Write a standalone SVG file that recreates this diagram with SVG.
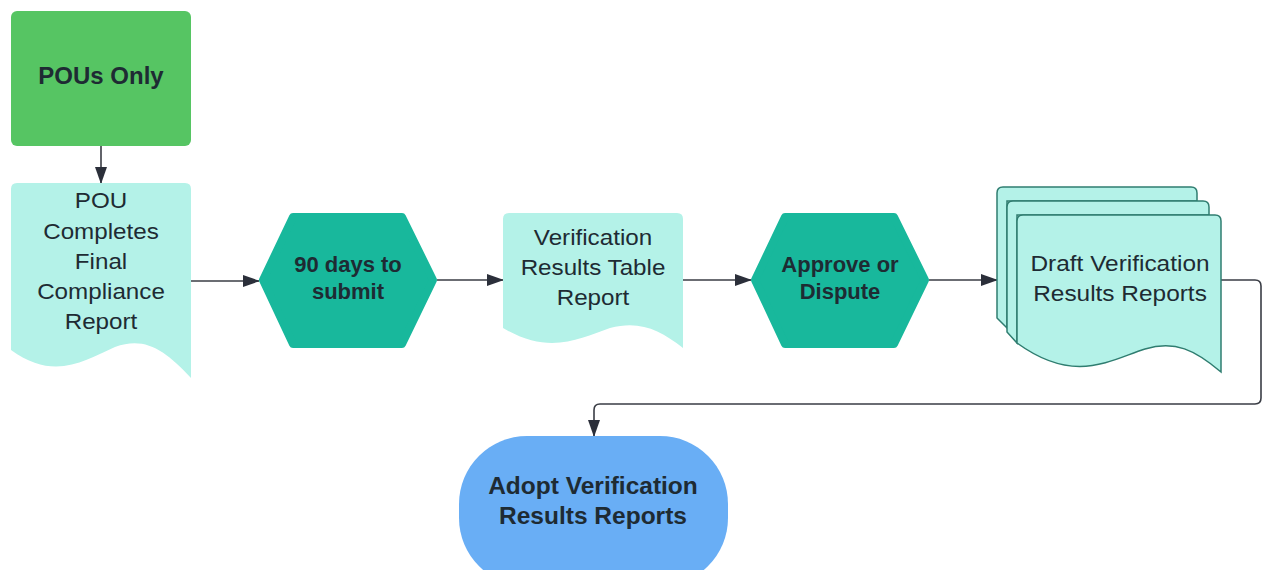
<svg xmlns="http://www.w3.org/2000/svg" width="1263" height="570" viewBox="0 0 1263 570">
<defs>
<marker id="ah" markerWidth="17" markerHeight="12" refX="16" refY="6" orient="auto" markerUnits="userSpaceOnUse">
<path d="M0,0 L17,6 L0,12 Z" fill="#2b2f3a"/>
</marker>
<style>
.t{font-family:"Liberation Sans",Arial,sans-serif;font-size:22px;fill:#1e2b33;text-anchor:middle}
.b{font-weight:bold}
.doc{fill:#b4f2e8}
.hex{fill:#18b89c;stroke:#18b89c;stroke-width:8;stroke-linejoin:round}
.md{fill:#b4f2e8;stroke:#2f7d70;stroke-width:1.5}
.c{fill:none;stroke:#3a3d45;stroke-width:1.6}
</style>
</defs>
<rect width="1263" height="570" fill="#ffffff"/>
<g id="connectors">
<path class="c" d="M101,146 L101,183" marker-end="url(#ah)"/>
<path class="c" d="M191,281 L259,281" marker-end="url(#ah)"/>
<path class="c" d="M437,280 L503,280" marker-end="url(#ah)"/>
<path class="c" d="M683,280 L751,280" marker-end="url(#ah)"/>
<path class="c" d="M929,280 L997,280" marker-end="url(#ah)"/>
<path class="c" d="M1221,280 L1255,280 Q1261,280 1261,286 L1261,398 Q1261,404 1255,404 L600,404 Q594,404 594,410 L594,436" marker-end="url(#ah)"/>
</g>
<g id="n1">
<rect x="11" y="11" width="180" height="135" rx="6" fill="#56c563"/>
<text class="t b" x="101" y="84" style="font-size:24px">POUs Only</text>
</g>
<g id="n2">
<path class="doc" d="M11,189 Q11,183 17,183 L185,183 Q191,183 191,189 L191,378 C165,350 145,336 115,347 C85,360 55,382 11,350 Z"/>
<text class="t" transform="translate(101,208) scale(1.1,1)">POU</text>
<text class="t" transform="translate(101,239) scale(1.1,1)">Completes</text>
<text class="t" transform="translate(101,269) scale(1.1,1)">Final</text>
<text class="t" transform="translate(101,299) scale(1.1,1)">Compliance</text>
<text class="t" transform="translate(101,329) scale(1.1,1)">Report</text>
</g>
<g id="n3">
<polygon class="hex" points="263,280 293,217 402,217 433,280 402,344 293,344"/>
<text class="t b" x="348" y="272">90 days to</text>
<text class="t b" x="348" y="299">submit</text>
</g>
<g id="n4">
<path class="doc" d="M503,219 Q503,213 509,213 L677,213 Q683,213 683,219 L683,348 C660,330 640,320 610,328 C580,338 550,356 503,328 Z"/>
<text class="t" transform="translate(593,245) scale(1.1,1)">Verification</text>
<text class="t" transform="translate(593,275) scale(1.1,1)">Results Table</text>
<text class="t" transform="translate(593,305) scale(1.1,1)">Report</text>
</g>
<g id="n5">
<polygon class="hex" points="755,280 785,217 894,217 925,280 894,344 785,344"/>
<text class="t b" x="840" y="272">Approve or</text>
<text class="t b" x="840" y="299">Dispute</text>
</g>
<g id="n6">
<path class="md" d="M997,193 Q997,187 1003,187 L1191,187 Q1197,187 1197,193 L1197,201 L1007,201 L1007,328 L997,318 Z"/>
<path class="md" d="M1007,207 Q1007,201 1013,201 L1203,201 Q1209,201 1209,207 L1209,215 L1017,215 L1017,343 L1007,332 Z"/>
<path class="md" d="M1017,221 Q1017,215 1023,215 L1215,215 Q1221,215 1221,221 L1221,372 C1195,350 1175,340 1145,349 C1110,360 1075,385 1017,343 Z"/>
<text class="t" transform="translate(1120,271) scale(1.11,1)">Draft Verification</text>
<text class="t" transform="translate(1120,301) scale(1.11,1)">Results Reports</text>
</g>
<g id="n7">
<rect x="459" y="436" width="269" height="150" rx="68" ry="68" fill="#69aef5"/>
<text class="t b" x="593" y="494" style="font-size:24.5px">Adopt Verification</text>
<text class="t b" x="593" y="524" style="font-size:24.5px">Results Reports</text>
</g>
</svg>
